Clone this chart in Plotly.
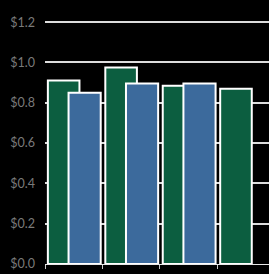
import plotly.graph_objects as go

categories = ["A", "B", "C", "D"]
series_green = [0.91, 0.975, 0.885, 0.87]
series_blue = [0.85, 0.895, 0.895, None]
y_ticks = [0.0, 0.2, 0.4, 0.6, 0.8, 1.0, 1.2]
y_tick_labels = ["$0.0", "$0.2", "$0.4", "$0.6", "$0.8", "$1.0", "$1.2"]

fig = go.Figure()
fig.add_trace(go.Bar(
    x=categories, y=series_green, offset=-0.45, width=0.55,
    marker=dict(color="#0c5e40", line=dict(color="white", width=2)),
))
fig.add_trace(go.Bar(
    x=categories, y=series_blue, offset=-0.09, width=0.56,
    marker=dict(color="#3c6a9c", line=dict(color="white", width=2)),
))

fig.update_layout(
    width=269, height=274,
    margin=dict(l=45, r=0, t=2, b=10),
    paper_bgcolor="black", plot_bgcolor="black",
    barmode="overlay", showlegend=False,
    font=dict(family="Lato, sans-serif", color="#7a7a7a", size=12.5),
    xaxis=dict(
        type="category", range=[-0.5, 3.4], tickson="boundaries",
        showticklabels=False, showgrid=False, zeroline=False,
        showline=True, linecolor="#e8e8e8", linewidth=1,
        ticks="outside", ticklen=4, tickcolor="#cccccc", tickwidth=1,
    ),
    yaxis=dict(
        range=[0, 1.3], tickvals=y_ticks, ticktext=y_tick_labels,
        showgrid=True, gridcolor="#dddddd", gridwidth=2,
        zeroline=False, showline=False, ticks="", ticklabelstandoff=9,
    ),
)

fig.write_html("out.html")
